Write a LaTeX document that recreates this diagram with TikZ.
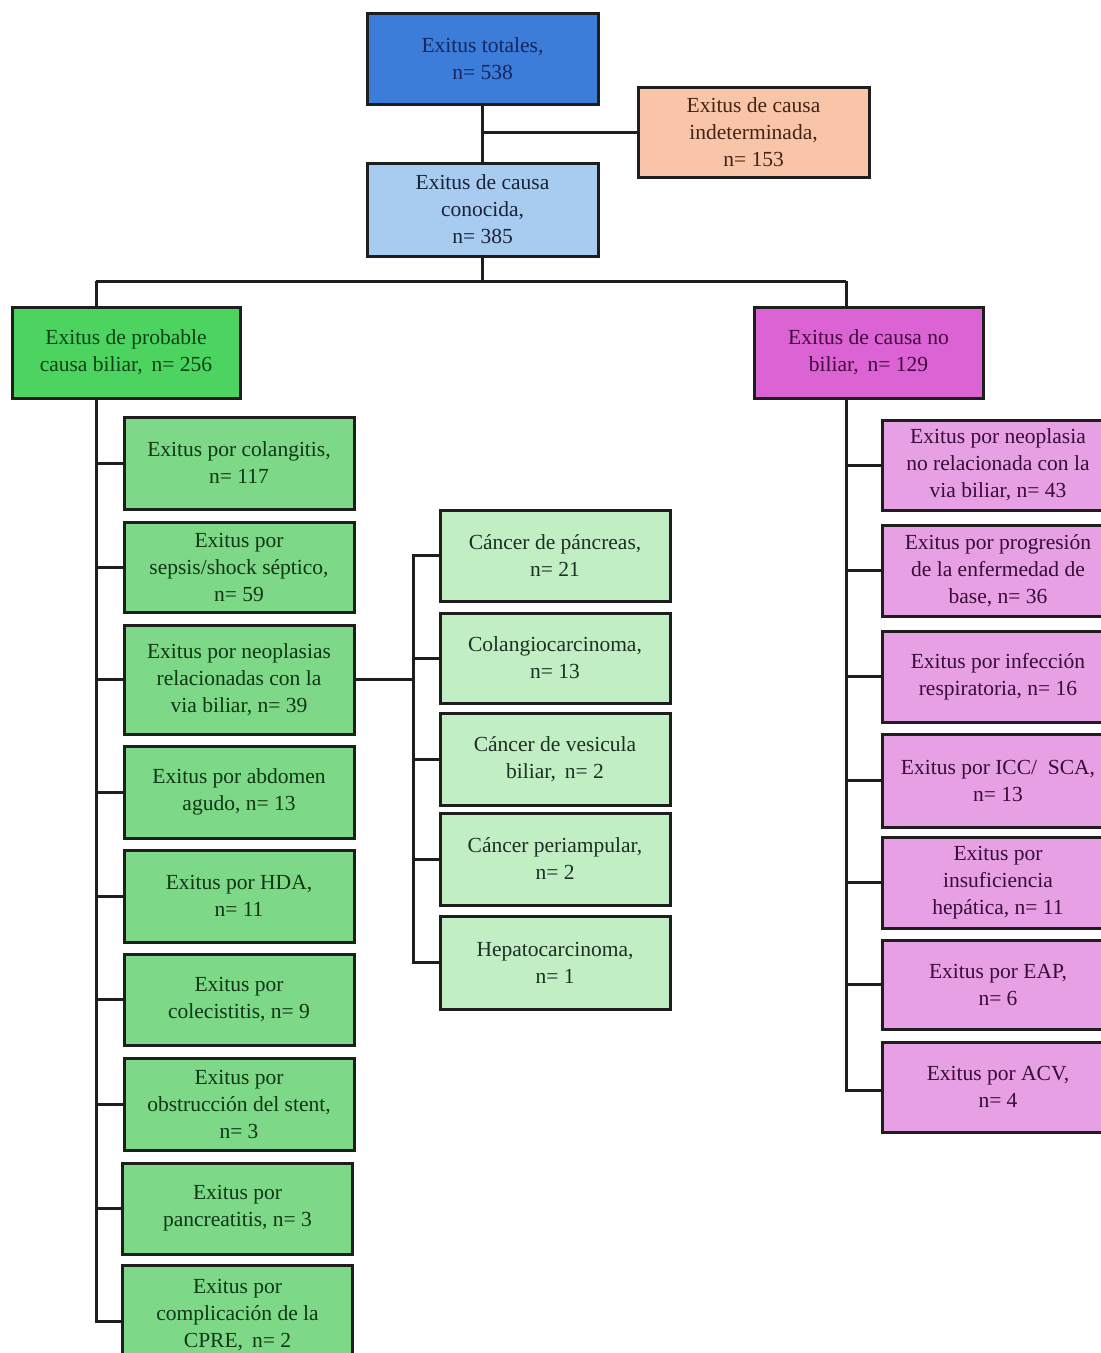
\documentclass[tikz,border=0pt]{standalone}
\usepackage{fontspec}
\setmainfont{Liberation Serif}
\definecolor{cBlue}{HTML}{3B7DD8}
\definecolor{tBlue}{HTML}{152660}
\definecolor{cPeach}{HTML}{F8C5A8}
\definecolor{tPeach}{HTML}{452314}
\definecolor{cLBlue}{HTML}{A8CCF0}
\definecolor{tLBlue}{HTML}{18223A}
\definecolor{cGreen}{HTML}{4DD35F}
\definecolor{tGreen}{HTML}{0B4214}
\definecolor{cMGreen}{HTML}{7DD888}
\definecolor{tMGreen}{HTML}{0F3714}
\definecolor{cLGreen}{HTML}{C2EEC4}
\definecolor{tLGreen}{HTML}{1C3024}
\definecolor{cMag}{HTML}{DB63D3}
\definecolor{tMag}{HTML}{42093D}
\definecolor{cLMag}{HTML}{E8A0E4}
\definecolor{tLMag}{HTML}{380C38}
\definecolor{edge}{HTML}{1E1E1E}
\begin{document}
\begin{tikzpicture}[x=1pt,y=-1pt,
  box/.style={draw=edge,line width=3pt,rectangle,align=center,inner sep=2pt,
    font=\fontsize{21.5}{27}\selectfont},
  bw/.style={minimum width=#1},
  bh/.style={minimum height=#1},
  link/.style={draw=edge,line width=3pt},
  topb/.style={box,fill=cBlue,text=tBlue},
  indb/.style={box,fill=cPeach,text=tPeach},
  conb/.style={box,fill=cLBlue,text=tLBlue},
  bilb/.style={box,fill=cGreen,text=tGreen},
  leftb/.style={box,fill=cMGreen,text=tMGreen,bw=230pt},
  midb/.style={box,fill=cLGreen,text=tLGreen,bw=230pt},
  nobb/.style={box,fill=cMag,text=tMag},
  rightb/.style={box,fill=cLMag,text=tLMag,bw=232pt}]
\useasboundingbox (0,0) rectangle (1101,1353);
\fill[white] (0,0) rectangle (1101,1353);

% top
\node[topb,bw=231pt,bh=91pt] (tot) at (482.5,58.5) {Exitus totales,\\ n= 538};
\node[indb,bw=231pt,bh=90pt] (ind) at (753.5,132) {Exitus de causa\\ indeterminada,\\ n= 153};
\node[conb,bw=231pt,bh=93pt] (con) at (482.5,209.5) {Exitus de causa\\ conocida,\\ n= 385};
\node[bilb,bw=228pt,bh=91pt] (bil) at (126,352.5) {Exitus de probable\\ causa biliar,\, n= 256};
\node[nobb,bw=229pt,bh=91pt] (nob) at (868.5,352.5) {Exitus de causa no\\ biliar,\, n= 129};

% left column
\node[leftb,bh=92pt] (L1) at (239,463) {Exitus por colangitis,\\ n= 117};
\node[leftb,bh=90pt] (L2) at (239,567) {Exitus por\\ sepsis/shock séptico,\\ n= 59};
\node[leftb,bh=109pt] (L3) at (239,679.5) {Exitus por neoplasias\\ relacionadas con la\\ via biliar, n= 39};
\node[leftb,bh=92pt] (L4) at (239,792) {Exitus por abdomen\\ agudo, n= 13};
\node[leftb,bh=92pt] (L5) at (239,896) {Exitus por HDA,\\ n= 11};
\node[leftb,bh=91pt] (L6) at (239,999.5) {Exitus por\\ colecistitis, n= 9};
\node[leftb,bh=92pt] (L7) at (239,1104) {Exitus por\\ obstrucción del stent,\\ n= 3};
\node[leftb,bh=91pt] (L8) at (237.5,1208.5) {Exitus por\\ pancreatitis, n= 3};
\node[leftb,bh=100pt] (L9) at (237.5,1315) {Exitus por\\ complicación de la\\ CPRE,\, n= 2};

% middle column
\node[midb,bh=91pt] (M1) at (555,555.5) {Cáncer de páncreas,\\ n= 21};
\node[midb,bh=90pt] (M2) at (555,658) {Colangiocarcinoma,\\ n= 13};
\node[midb,bh=92pt] (M3) at (555,759) {Cáncer de vesicula\\ biliar,\, n= 2};
\node[midb,bh=92pt] (M4) at (555,859) {Cáncer periampular,\\ n= 2};
\node[midb,bh=93pt] (M5) at (555,962.5) {Hepatocarcinoma,\\ n= 1};

% right column
\node[rightb,bh=90pt] (R1) at (998,465) {Exitus por neoplasia\\ no relacionada con la\\ via biliar, n= 43};
\node[rightb,bh=91pt] (R2) at (998,570.5) {Exitus por progresión\\ de la enfermedad de\\ base, n= 36};
\node[rightb,bh=91pt] (R3) at (998,676.5) {Exitus por infección\\ respiratoria, n= 16};
\node[rightb,bh=93pt] (R4) at (998,780.5) {Exitus por ICC/\ \ SCA,\\ n= 13};
\node[rightb,bh=91pt] (R5) at (998,882.5) {Exitus por\\ insuficiencia\\ hepática, n= 11};
\node[rightb,bh=89pt] (R6) at (998,984.5) {Exitus por EAP,\\ n= 6};
\node[rightb,bh=90pt] (R7) at (998,1087) {Exitus por ACV,\\ n= 4};

% junction coordinates
\coordinate (lb) at (96,281);
\coordinate (rb) at (846,281);
\coordinate (lend) at (96,1321);
\coordinate (mb) at (413,679.5);
\coordinate (rend) at (846,1090);

% top connectors
\draw[link] (tot.south) -- (con.north);
\draw[link] (tot.south |- ind.west) -- (ind.west);
\draw[link] (con.south) |- (lb);
\draw[link] (lb) -- (rb);
\draw[link] (lb) -- (lb |- bil.north);
\draw[link] (rb) -- (rb |- nob.north);

% left bar
\draw[link] (lb |- bil.south) -- (lend) -- (lend -| L9.west);
\foreach \n in {L1,L2,L3,L4,L5,L6,L7,L8}
  \draw[link] (\n.west) -- (\n.west -| lb);

% middle bar
\draw[link] (L3.east) -- (mb);
\draw[link] (M1.west) -- (M1.west -| mb) -- (mb |- M5.west) -- (M5.west);
\foreach \n in {M2,M3,M4}
  \draw[link] (\n.west) -- (\n.west -| mb);

% right bar
\draw[link] (rb |- nob.south) -- (rend) -- (rend -| R7.west);
\foreach \n in {R1,R2,R3,R4,R5,R6}
  \draw[link] (\n.west) -- (\n.west -| rb);
\end{tikzpicture}
\end{document}
